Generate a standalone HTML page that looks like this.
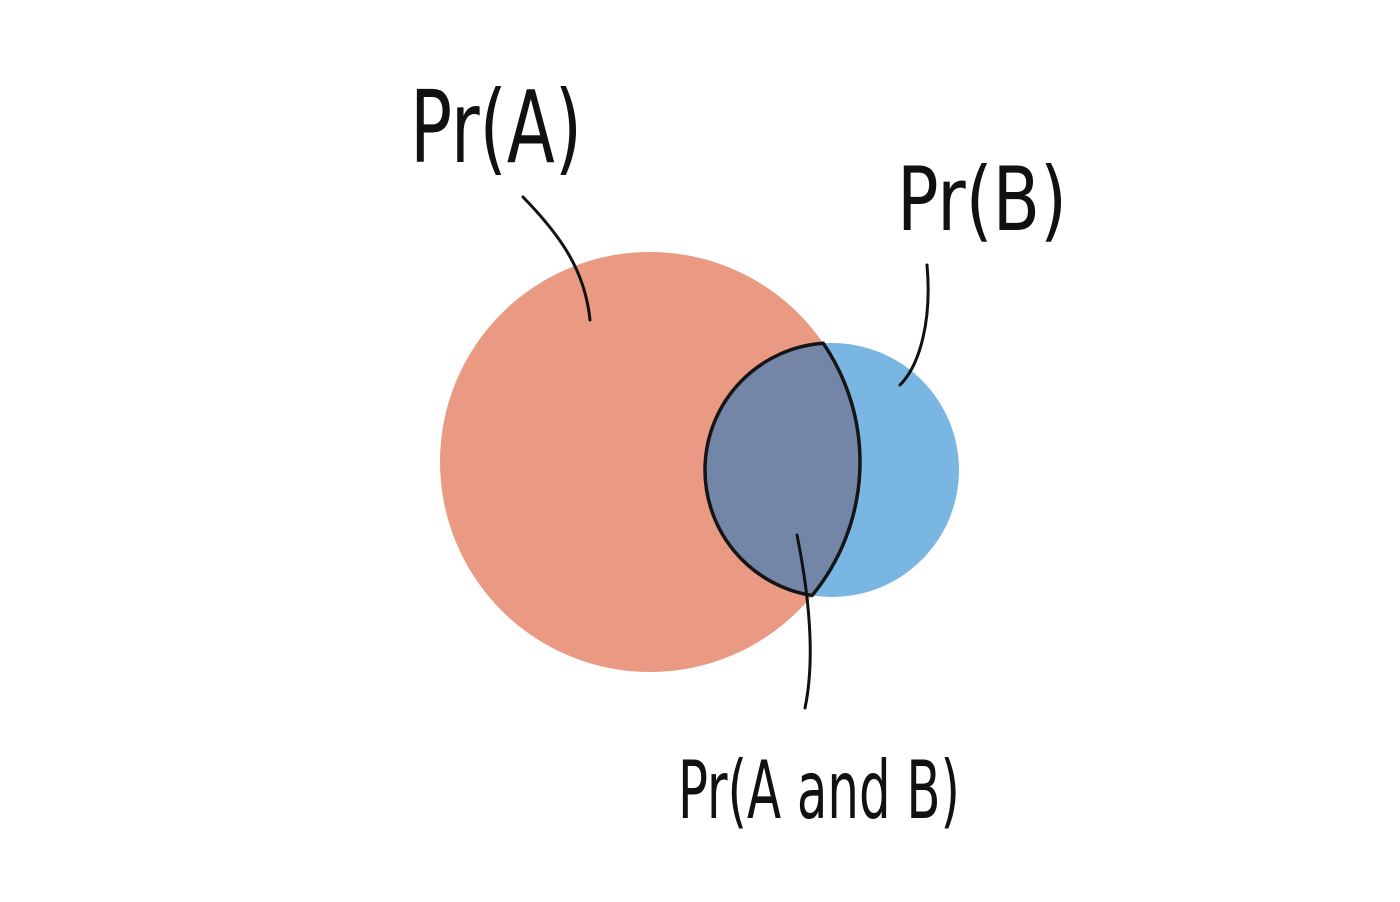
<!DOCTYPE html>
<html><head><meta charset="utf-8"><style>
html,body{margin:0;padding:0;background:#fff;width:1400px;height:902px;overflow:hidden}
svg text{font-family:"DejaVu Sans Condensed","DejaVu Sans","Liberation Sans",sans-serif;fill:#111}
</style></head><body>
<svg id="chart" width="1400" height="902" viewBox="0 0 1400 902" xmlns="http://www.w3.org/2000/svg">
<defs><clipPath id="clipA"><circle id="clipCircle" cx="0" cy="0" r="0"/></clipPath></defs>
<g id="layer"></g>
</svg>
<script>
const setNames = ["A", "B"];
const setCx = [650, 832];
const setCy = [462, 470];
const setR = [210, 127];
const setColors = ["#ea9a82", "#7ab6e2"];
const labelTexts = ["Pr(A)", "Pr(B)", "Pr(A and B)"];

const NS = "http://www.w3.org/2000/svg";
const layer = document.getElementById("layer");
function mk(tag, attrs){const e=document.createElementNS(NS,tag);for(const k in attrs)e.setAttribute(k,attrs[k]);layer.appendChild(e);return e;}

for (let i=0;i<setNames.length;i++){
  const c = mk("circle",{cx:setCx[i],cy:setCy[i],r:setR[i],fill:setColors[i]});
  
  
}
const cc=document.getElementById("clipCircle");
cc.setAttribute("cx",setCx[0]);cc.setAttribute("cy",setCy[0]);cc.setAttribute("r",setR[0]);
const inter = mk("circle",{cx:setCx[1],cy:setCy[1],r:setR[1],fill:"#7486a8","clip-path":"url(#clipA)"});



const dx=setCx[1]-setCx[0], dy=setCy[1]-setCy[0], d=Math.hypot(dx,dy);
const a=(d*d+setR[0]*setR[0]-setR[1]*setR[1])/(2*d), h=Math.sqrt(setR[0]*setR[0]-a*a);
const mx=setCx[0]+a*dx/d, my=setCy[0]+a*dy/d;
const p1=[mx+h*dy/d, my-h*dx/d], p2=[mx-h*dy/d, my+h*dx/d];
const lens = mk("path",{d:`M${p1[0]},${p1[1]} A${setR[0]},${setR[0]} 0 0 1 ${p2[0]},${p2[1]} A${setR[1]},${setR[1]} 0 0 1 ${p1[0]},${p1[1]} Z`,fill:"none",stroke:"#151515","stroke-width":3.5});



const leaders = ["M523,197 C560,235 585,270 590,320","M927,265 C932,320 920,365 900,385","M797,535 C810,600 815,660 805,708"];
const leaderNames=["leader-a","leader-b","leader-ab"];
for (let i=0;i<leaders.length;i++){
  const p=mk("path",{d:leaders[i],fill:"none",stroke:"#111","stroke-width":3,"stroke-linecap":"round"});
  
  
}
const lx=[410,897,678], ly=[162,230,818], lsize=[100,88,80], lw=[172,170,282];
const lnames=["label-pr-a","label-pr-b","label-pr-a-and-b"];
for (let i=0;i<labelTexts.length;i++){
  const t=mk("text",{x:lx[i],y:ly[i],"font-size":lsize[i],textLength:lw[i],lengthAdjust:"spacingAndGlyphs"});
  t.textContent=labelTexts[i];
  
  
}
</script>
</body></html>
